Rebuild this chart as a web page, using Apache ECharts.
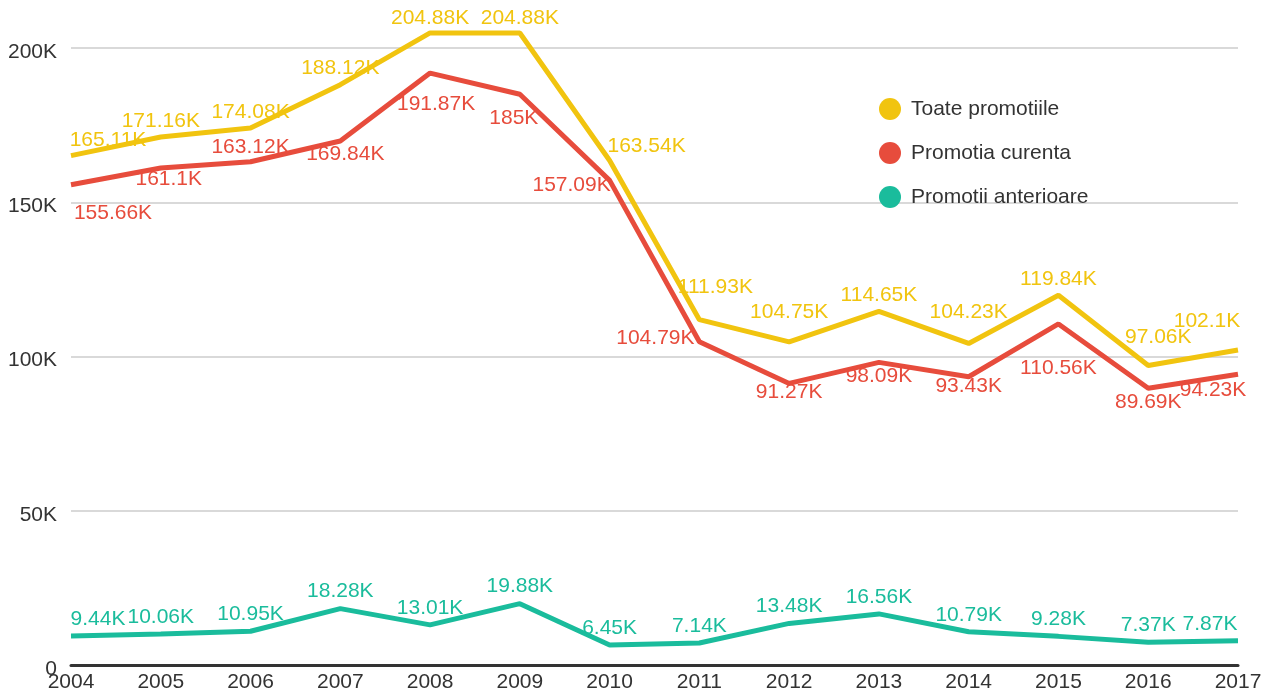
<!DOCTYPE html>
<html>
<head>
<meta charset="utf-8">
<script src="https://cdn.jsdelivr.net/npm/echarts@6/dist/echarts.min.js"></script>
<style>
  html, body { margin: 0; padding: 0; background: #fff; }
  #chart { width: 1271px; height: 693px; }
</style>
</head>
<body>
<div id="chart"></div>
<script>
// ani
const years = ['2004', '2005', '2006', '2007', '2008', '2009', '2010', '2011', '2012', '2013', '2014', '2015', '2016', '2017']

// valori in mii
const toate = [165.11, 171.16, 174.08, 188.12, 204.88, 204.88, 163.54, 111.93, 104.75, 114.65, 104.23, 119.84, 97.06, 102.1]
const curenta = [155.66, 161.1, 163.12, 169.84, 191.87, 185, 157.09, 104.79, 91.27, 98.09, 93.43, 110.56, 89.69, 94.23]
const anterioare = [9.44, 10.06, 10.95, 18.28, 13.01, 19.88, 6.45, 7.14, 13.48, 16.56, 10.79, 9.28, 7.37, 7.87]

// deplasarea etichetelor fata de punct (px)
const offToate = [[37, -15], [0, -16], [0, -16], [0, -16], [0, -15], [0, -15], [37, -14], [16, -32], [0, -30], [0, -16], [0, -31], [0, -16], [10, -28], [-31, -29]]
const offCurenta = [[42, 28], [8, 11], [0, -15], [5, 13], [6, 31], [-6, 24], [-38, 5], [-44, -4], [0, 9], [0, 14], [0, 9], [0, 44], [0, 14], [-25, 16]]
const offAnterioare = [[27, -17], [0, -17], [0, -17], [0, -17], [0, -17], [0, -17], [0, -17], [0, -17], [0, -17], [0, -17], [0, -17], [0, -17], [0, -17], [-28, -17]]

const font = "'Liberation Sans', Arial, sans-serif"

function makeSeries(name, values, offsets, color) {
  return {
    name: name,
    type: 'line',
    clip: false,
    symbol: 'circle',
    symbolSize: 0.1,
    lineStyle: { width: 5, color: color },
    itemStyle: { color: color },
    emphasis: { disabled: true },
    label: {
      show: true,
      position: 'inside',
      color: color,
      fontSize: 21,
      fontFamily: font,
      formatter: p => p.value / 1000 + 'K'
    },
    data: values.map((v, i) => ({
      value: Math.round(v * 1000),
      label: { offset: offsets[i] }
    }))
  }
}

const myChart = echarts.init(document.getElementById('chart'))
const option = {
  animation: false,
  color: ['#F1C40F', '#E74C3C', '#1ABC9C'],
  grid: { left: 71, right: 33, top: 48, bottom: 28 },
  legend: {
    orient: 'vertical',
    left: 874,
    top: 93,
    icon: 'circle',
    itemWidth: 22,
    itemHeight: 22,
    itemGap: 22,
    textStyle: { fontSize: 21, color: '#333', fontFamily: font, padding: [0, 0, 0, 5] },
    data: ['Toate promotiile', 'Promotia curenta', 'Promotii anterioare']
  },
  xAxis: {
    type: 'category',
    boundaryGap: false,
    data: years,
    axisLine: { lineStyle: { color: '#333', width: 3 } },
    axisTick: { show: false },
    axisLabel: { color: '#333', fontSize: 21, fontFamily: font, margin: 7 },
    splitLine: { show: false }
  },
  yAxis: {
    type: 'value',
    min: 0,
    max: 200000,
    interval: 50000,
    axisLine: { show: false },
    axisTick: { show: false },
    axisLabel: {
      color: '#333',
      fontSize: 21,
      fontFamily: font,
      margin: 14,
      formatter: v => '{v|' + (v === 0 ? '0' : v / 1000 + 'K') + '}',
      rich: {
        v: { color: '#333', fontSize: 21, fontFamily: font, padding: [8, 0, 0, 0] }
      }
    },
    splitLine: { lineStyle: { color: '#d9d9d9', width: 2 } }
  },
  series: [
    makeSeries('Toate promotiile', toate, offToate, '#F1C40F'),
    makeSeries('Promotia curenta', curenta, offCurenta, '#E74C3C'),
    makeSeries('Promotii anterioare', anterioare, offAnterioare, '#1ABC9C')
  ]
}
myChart.setOption(option)
</script>
</body>
</html>
